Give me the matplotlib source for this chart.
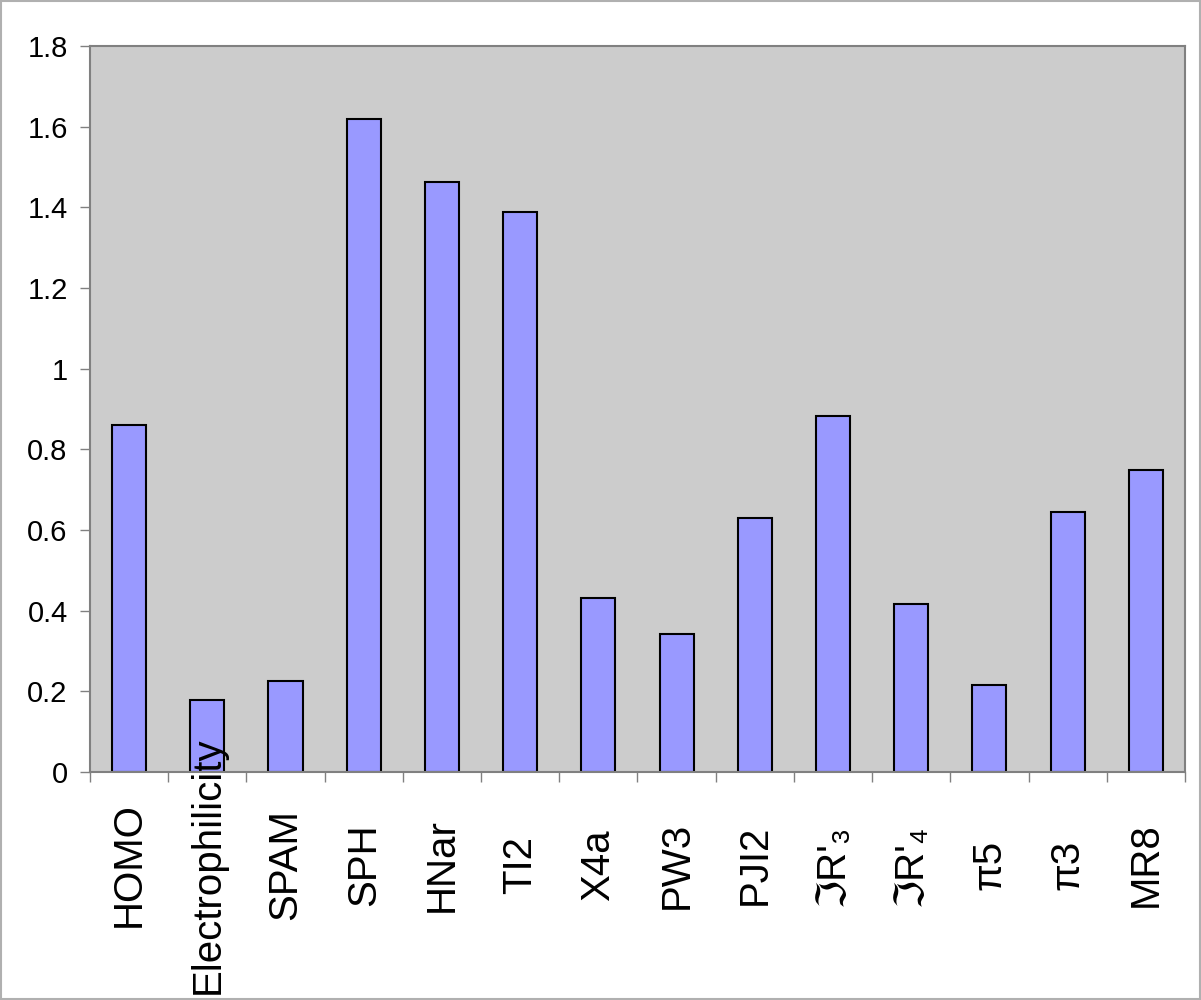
import matplotlib.pyplot as plt
import matplotlib.patches as patches
import numpy as np

plt.rcParams['font.family'] = ['Liberation Sans', 'DejaVu Sans']

labels = ["HOMO", "Electrophilicity", "SPAM", "SPH", "HNar", "TI2", "X4a", "PW3",
          "PJI2", "ℑR'₃", "ℑR'₄", "π5", "π3", "MR8"]
values = [0.860, 0.179, 0.226, 1.619, 1.463, 1.389, 0.431, 0.342,
          0.630, 0.883, 0.417, 0.216, 0.645, 0.749]
yticks = [0, 0.2, 0.4, 0.6, 0.8, 1, 1.2, 1.4, 1.6, 1.8]
ytick_labels = ["0", "0.2", "0.4", "0.6", "0.8", "1", "1.2", "1.4", "1.6", "1.8"]

fig = plt.figure(figsize=(12.01, 10), dpi=100)
ax = fig.add_axes([0.0749, 0.228, 0.9118, 0.726])
ax.set_facecolor("#cccccc")

x = np.arange(len(values))
ax.bar(x, values, width=0.435, color="#9999ff", edgecolor="black", linewidth=1.5)

ax.set_xlim(-0.5, len(values) - 0.5)
ax.set_ylim(0, 1.8)
ax.set_yticks(yticks)
ax.set_yticklabels(ytick_labels, fontsize=21)
ax.tick_params(axis="y", length=7, color="#808080", width=1, pad=9)

ax.set_xticks(x)
ax.set_xticklabels(labels, rotation=90, fontsize=29, va="center", ha="center")
ax.tick_params(axis="x", which="major", length=0, pad=67)
ax.set_xticks(np.arange(len(values) + 1) - 0.5, minor=True)
ax.tick_params(axis="x", which="minor", length=7, color="#808080", width=1)

for s in ax.spines.values():
    s.set_color("#808080")
    s.set_linewidth(1.5)

fig.patches.append(patches.Rectangle((0.001, 0.001), 0.998, 0.998, transform=fig.transFigure,
                                     fill=False, edgecolor="#b0b0b0", linewidth=1.5))

plt.savefig("out.png", dpi=100)
